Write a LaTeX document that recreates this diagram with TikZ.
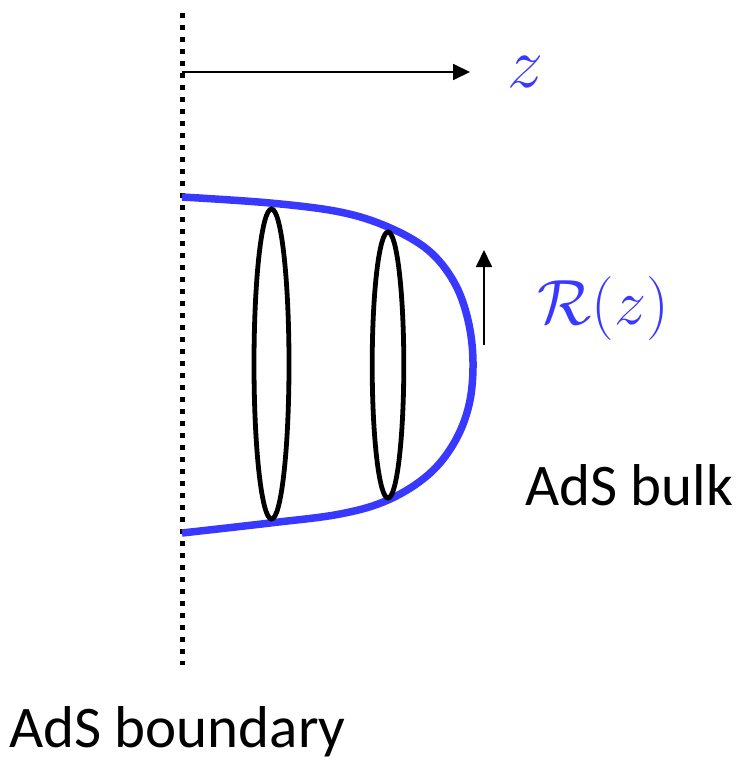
\RequirePackage{fix-cm}
\documentclass[tikz,border=0pt]{standalone}
\usepackage{fontspec}
\setmainfont{Carlito}
\usetikzlibrary{arrows.meta}
\definecolor{curveblue}{RGB}{56,56,255}
\begin{document}
\begin{tikzpicture}[x=1pt,y=-1pt,
  boundaryline/.style={line width=5pt,dash pattern=on 5pt off 7pt},
  axisarrow/.style={line width=1.8pt,-{Triangle[length=17pt,width=16pt]}},
  bulkcurve/.style={curveblue,line width=7.5pt},
  ring/.style={line width=4.8pt},
  mathlabel/.style={curveblue,inner sep=0pt},
  txt/.style={inner sep=0pt,anchor=base west,font=\fontsize{59}{61}\selectfont}]
\useasboundingbox (0,0) rectangle (742,768);
% AdS boundary (dotted)
\coordinate (btop) at (182,13);
\coordinate (bbot) at (182,665);
\draw[boundaryline] (btop) -- (bbot);
% z axis
\coordinate (zs) at (182,72);
\coordinate (ze) at (470,72);
\draw[axisarrow] (zs) -- (ze);
\node[mathlabel,font=\fontsize{72}{74}\selectfont] (zlab) at (525,72) {$z$};
% blue curve
\draw[bulkcurve,line cap=butt] plot[smooth,tension=0.6] coordinates {
  (182,197) (270,203) (340,212) (388,227) (428,250) (454,282) (468,320)
  (473,362) (469,405) (454,443) (428,475) (388,500) (340,514) (270,523) (182,533)};
% rings
\draw[ring] (271.5,364) ellipse [x radius=17.5,y radius=155];
\draw[ring] (388,365) ellipse [x radius=15.8,y radius=133];
% R(z) arrow
\coordinate (rs) at (484,345);
\coordinate (re) at (484,250);
\draw[axisarrow] (rs) -- (re);
\node[mathlabel,font=\fontsize{64}{66}\selectfont] (rlab) at (603,308) {$\mathcal{R}(z)$};
% labels
\node[txt] (bulk) at (525,505) {AdS bulk};
\node[txt] (bdry) at (9,747) {AdS boundary};
\end{tikzpicture}
\end{document}
